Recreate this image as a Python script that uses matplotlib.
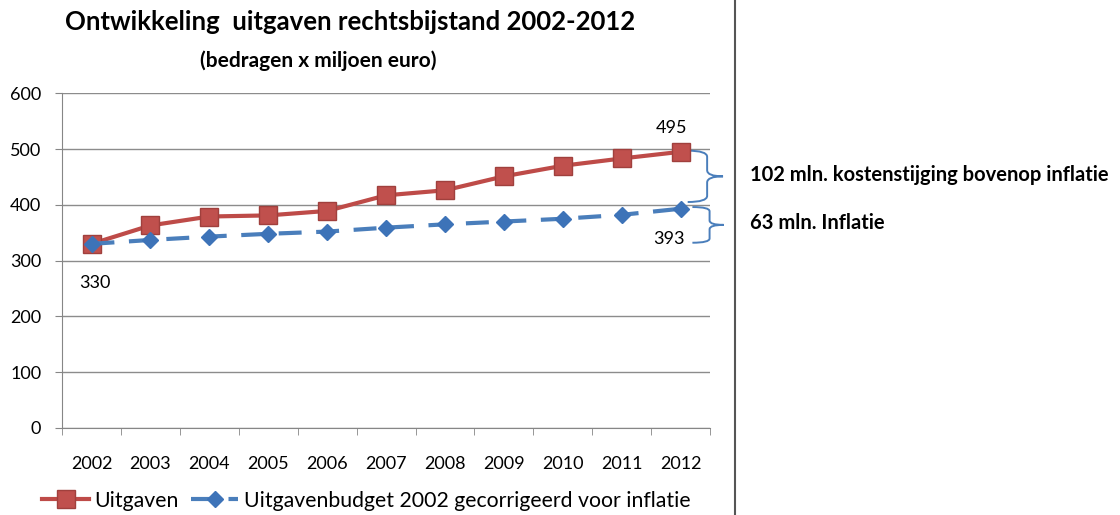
import matplotlib
matplotlib.use("Agg")
import matplotlib.pyplot as plt
from matplotlib.path import Path
from matplotlib.patches import PathPatch
from matplotlib.lines import Line2D

plt.rcParams['font.family'] = ['Lato', 'DejaVu Sans']

years = ['2002', '2003', '2004', '2005', '2006', '2007', '2008', '2009', '2010', '2011', '2012']
uitgaven = [330, 363, 379, 381, 389, 417, 426, 451, 470, 483, 495]
budget = [330, 337, 343, 348, 352, 359, 365, 370, 375, 382, 393]
yticks = [0, 100, 200, 300, 400, 500, 600]

red = '#BE4B48'
blue = '#4A7EBB'


def brace(ax, x0, y_top, y_bot, w, color):
    # curly brace opening to the left, tip pointing right
    xm = x0 + w * 0.55
    xt = x0 + w
    ym = (y_top + y_bot) / 2
    r = (y_top - y_bot) * 0.12
    verts = [(x0, y_top), (xm, y_top), (xm, y_top - r),
             (xm, ym + r), (xm, ym), (xt, ym),
             (xm, ym), (xm, ym - r),
             (xm, y_bot + r), (xm, y_bot), (x0, y_bot)]
    codes = [Path.MOVETO, Path.CURVE3, Path.CURVE3,
             Path.LINETO, Path.CURVE3, Path.CURVE3,
             Path.CURVE3, Path.CURVE3,
             Path.LINETO, Path.CURVE3, Path.CURVE3]
    ax.add_patch(PathPatch(Path(verts, codes), fill=False, edgecolor=color,
                           lw=1.4, clip_on=False))


fig = plt.figure(figsize=(11.2, 5.15), dpi=100)
ax = fig.add_axes([0.0554, 0.169, 0.5786, 0.650])

x = list(range(len(years)))
ax.plot(x, uitgaven, color=red, lw=3, marker='s', markersize=12.5,
        markerfacecolor='#C0504D', markeredgecolor='#A0403D', label='Uitgaven', zorder=3)
ax.plot(x, budget, color=blue, lw=3, ls=(0, (5.5, 3.5)), marker='D', markersize=8,
        markerfacecolor='#3D73B8', markeredgecolor='#3D73B8',
        label='Uitgavenbudget 2002 gecorrigeerd voor inflatie', zorder=3)

ax.set_xlim(-0.5, len(years) - 0.5)
ax.set_ylim(0, 600)
ax.set_yticks(yticks)
ax.set_xticks(x)
ax.set_xticklabels(years)
ax.set_xticks([i - 0.5 for i in range(len(years) + 1)], minor=True)
ax.tick_params(axis='x', which='major', length=0, labelsize=13, pad=20)
ax.tick_params(axis='x', which='minor', length=5, color='#868686')
ax.tick_params(axis='y', length=5, color='#868686', labelsize=13, pad=10)
ax.grid(axis='y', color='#8C8C8C', lw=1)
ax.set_axisbelow(True)
for s in ['top', 'right']:
    ax.spines[s].set_visible(False)
for s in ['left', 'bottom']:
    ax.spines[s].set_color('#868686')

# data labels
ax.text(x[0] + 0.05, uitgaven[0] - 70, str(uitgaven[0]), ha='center', va='center', fontsize=13)
ax.text(x[-1] - 0.15, uitgaven[-1] + 43, str(uitgaven[-1]), ha='center', va='center', fontsize=13)
ax.text(x[-1] - 0.2, budget[-1] - 55, str(budget[-1]), ha='center', va='center', fontsize=13)

# braces
brace(ax, 10.12, uitgaven[-1] + 2, 405, 0.6, blue)
brace(ax, 10.2, 396, budget[0] + 2, 0.53, blue)

fig.text(0.313, 0.957, 'Ontwikkeling  uitgaven rechtsbijstand 2002-2012',
         ha='center', va='center', fontsize=18.5, fontweight='bold')
fig.text(0.284, 0.883, '(bedragen x miljoen euro)',
         ha='center', va='center', fontsize=15, fontweight='bold')

fig.add_artist(Line2D([0.656, 0.656], [0, 1], color='#555555', lw=1.5))

fig.text(0.670, 0.660, '102 mln. kostenstijging bovenop inflatie', ha='left', va='center',
         fontsize=14.5, fontweight='bold')
fig.text(0.670, 0.567, '63 mln. Inflatie', ha='left', va='center',
         fontsize=14.5, fontweight='bold')

fig.legend(loc='center', bbox_to_anchor=(0.327, 0.028), ncol=2, frameon=False,
           fontsize=15.3, handlelength=2.2, columnspacing=0.6, handletextpad=0.25)

fig.savefig('out.png', dpi=100)
